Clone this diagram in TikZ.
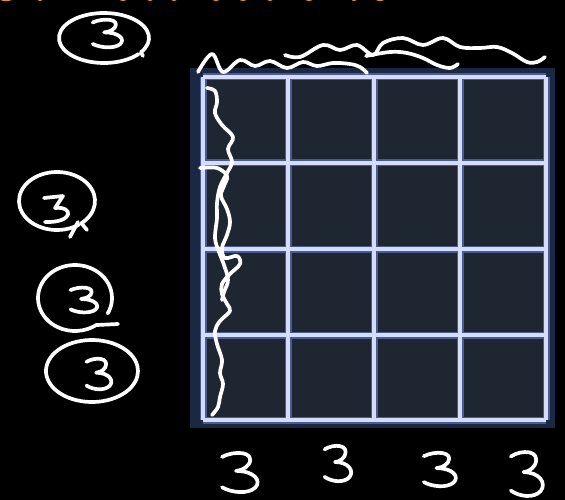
\documentclass[tikz,border=0pt]{standalone}
\usetikzlibrary{calc}
\definecolor{panel}{HTML}{1B2844}
\definecolor{cell}{HTML}{1E2631}
\definecolor{gridglow}{HTML}{4A5A94}
\definecolor{gridline}{HTML}{D6DCFC}
\definecolor{ylw}{HTML}{D99A10}
\tikzset{
  hand/.style={draw=white, line width=3.7pt, line cap=round, line join=round},
  three/.pic={\draw[hand] (0.05,0.12) .. controls (0.35,-0.04) and (0.9,-0.02) .. (0.72,0.3)
     .. controls (0.62,0.42) and (0.5,0.45) .. (0.4,0.46)
     .. controls (0.85,0.46) and (1.05,0.7) .. (0.88,0.87)
     .. controls (0.7,1.03) and (0.3,1.0) .. (0.05,0.86);}
}
\begin{document}
\begin{tikzpicture}[x=1pt,y=-1pt]
\useasboundingbox (0,0) rectangle (565,500);
\fill[black] (0,0) rectangle (565,500);
% cut-off yellow title slivers
\foreach \xx/\ww in {6/7,40/3,123/4,150/3,174/3,216/4,243/4,270/3,309/4,354/3,380/5}
  \fill[ylw] (\xx,-1.8) ellipse [x radius=\ww, y radius=3];
% panel
\fill[panel] (190,68) rectangle (555,428);
\fill[cell] (203,77) rectangle (546,420);
\foreach \p in {203,288,374,460,546} {
  \draw[gridglow, line width=7pt] (\p,77) -- (\p,420);
}
\foreach \p in {77,163,249,335,420} {
  \draw[gridglow, line width=7pt] (203,\p) -- (546,\p);
}
\foreach \p in {203,288,374,460,546} {
  \draw[gridline, line width=3.4pt] (\p,77) -- (\p,420);
}
\foreach \p in {77,163,249,335,420} {
  \draw[gridline, line width=3.4pt] (203,\p) -- (546,\p);
}
% top circled 3
\coordinate (c0) at (104,38);
\draw[hand] (c0) ++(40:45 and 25) arc[start angle=40, end angle=395, x radius=45, y radius=25] -- (143,56);
\pic[xscale=33, yscale=29] at (91,19) {three};
% left circled numbers
\coordinate (c1) at (57,201);
\draw[hand] (c1) ++(55:38 and 29) arc[start angle=55, end angle=410, x radius=38, y radius=29] -- (87,230);
\draw[hand] (78,222) -- (70,237);
\draw[hand] (44,198) -- (63,196) -- (55,208) .. controls (74,206) and (74,223) .. (45,222);
\coordinate (c2) at (75,298);
\draw[hand] (c2) ++(28:37 and 33) arc[start angle=28, end angle=-305, x radius=37, y radius=33] -- (118,324);
\pic[xscale=30, yscale=26] at (69,287) {three};
\coordinate (c3) at (92,371);
\draw[hand] (c3) ++(20:46 and 31) arc[start angle=20, end angle=390, x radius=46, y radius=31];
\pic[xscale=28, yscale=32] at (85,358) {three};
% bottom 3s
\pic[xscale=40, yscale=41] at (220,452) {three};
\pic[xscale=30, yscale=37] at (323,445) {three};
\pic[xscale=36, yscale=35] at (422,452) {three};
\pic[xscale=36, yscale=46] at (509,451) {three};
% top wavy strokes
\draw[hand] plot[smooth, tension=0.6] coordinates {(198,72) (212,54) (223,72) (240,60) (255,66) (270,61) (287,68) (303,62) (317,66) (333,63) (350,64) (360,67) (367,73)};
\draw[hand] plot[smooth, tension=0.6] coordinates {(285,55) (300,57) (323,45) (340,50) (357,45) (373,55) (383,43) (403,38) (423,45) (443,38) (460,47) (480,48) (497,47) (512,53) (527,62) (537,62) (545,57)};
\draw[hand] plot[smooth, tension=0.6] coordinates {(366,56) (390,52) (407,53) (423,58) (437,65) (450,68) (458,64)};
% left vertical wavy strokes
\draw[hand] plot[smooth, tension=0.6] coordinates {(207,88) (215,91) (217,102) (215,113) (222,125) (233,137) (228,149) (232,162) (227,173) (220,187) (217,203) (217,218) (215,238) (219,252) (224,265) (228,280) (224,292) (222,300)};
\draw[hand] plot[smooth, tension=0.6] coordinates {(200,168) (217,168) (227,176) (224,186) (221,196) (227,209) (230,222) (227,235) (222,248) (225,258) (237,256) (240,264) (230,274) (222,284) (222,294) (227,304) (230,311) (220,321) (215,331) (217,344) (222,360) (220,373) (223,384) (220,397) (218,407) (212,415)};
\end{tikzpicture}
\end{document}
